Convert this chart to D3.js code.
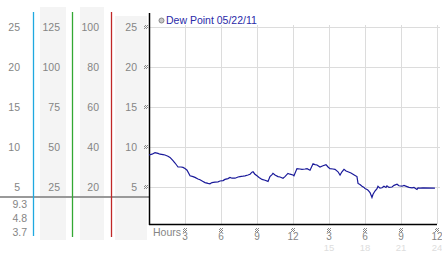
<!DOCTYPE html>
<head>
  <meta charset="utf-8">
  <script src="https://d3js.org/d3.v7.min.js"></script>
  <style>
    body { margin:0; background:#fff; }
    text { font-family: "Liberation Sans", Arial, sans-serif; }
  </style>
</head>
<body>
<script>
  // dew point readings, hours since midnight
  var hours = [0,0.25,0.5,0.75,0.92,1.17,1.33,1.58,1.75,2.0,2.17,2.42,2.67,2.83,3.0,3.17,3.42,3.67,3.83,
    4.08,4.25,4.5,4.67,4.92,5.08,5.25,5.5,5.75,5.92,6.17,6.33,6.58,6.75,6.92,7.17,7.42,7.58,7.83,8.0,
    8.25,8.42,8.58,8.67,8.83,9.0,9.17,9.42,9.67,9.92,10.08,10.25,10.33,10.5,10.75,10.92,11.17,11.33,
    11.58,11.75,12.0,12.08,12.33,12.58,12.75,13.0,13.17,13.42,13.67,13.83,14.0,14.25,14.5,14.75,14.92,
    15.08,15.33,15.5,15.75,15.92,16.08,16.25,16.42,16.58,16.83,17.0,17.17,17.33,17.42,17.58,17.75,
    17.92,18.0,18.17,18.25,18.42,18.58,18.67,18.83,19.0,19.08,19.25,19.42,19.58,19.75,19.83,20.0,
    20.25,20.42,20.67,20.83,21.08,21.25,21.5,21.67,21.92,22.08,22.33,22.42,22.58,22.83,23.83];
  var dewPoint = [9.0,9.1,9.3,9.2,9.1,9.05,9.0,8.85,8.7,8.3,8.0,7.5,7.5,7.45,7.3,7.1,6.4,6.3,6.2,
    6.0,5.9,5.7,5.55,5.45,5.4,5.55,5.6,5.65,5.75,5.8,5.95,6.05,6.2,6.1,6.1,6.25,6.3,6.35,6.4,
    6.5,6.6,6.85,6.9,6.6,6.4,6.2,5.95,5.85,5.7,6.3,6.55,6.7,6.5,6.3,6.25,6.1,6.3,
    6.7,6.6,6.5,6.4,7.3,7.25,7.2,7.25,7.3,7.1,7.9,7.8,7.75,7.5,7.65,7.8,7.5,
    7.3,7.25,7.2,6.9,6.5,6.9,7.2,7.0,6.9,6.75,6.6,6.45,6.3,5.45,5.3,5.1,
    4.95,4.8,4.7,4.6,4.3,3.7,4.1,4.5,4.8,5.1,4.85,4.9,5.1,4.95,5.15,4.95,
    5.0,5.2,5.35,5.15,5.1,5.2,5.05,4.95,4.9,4.95,4.7,4.9,4.85,4.9,4.85];

  var yTicks = [25, 20, 15, 10, 5];
  var col2Ticks = [125, 100, 75, 50, 25];
  var col3Ticks = [100, 80, 60, 40, 20];
  var stats = ["9.3", "4.8", "3.7"];
  var xTicks = [3, 6, 9, 12, 15, 18, 21, 24];
  var xLabels = ["3", "6", "9", "12", "3", "6", "9", "12"];
  var xLabels2 = ["", "", "", "", "15", "18", "21", "24"];
  var legendLabel = "Dew Point 05/22/11";

  var svg = d3.select("body").append("svg")
    .attr("width", 442)
    .attr("height", 253);

  var x = d3.scaleLinear().domain([0, 24]).range([149, 437]);
  var y = d3.scaleLinear().domain([5, 25]).range([187, 27]);
  var y2 = d3.scaleLinear().domain([25, 125]).range([187, 27]);
  var y3 = d3.scaleLinear().domain([20, 100]).range([187, 27]);

  // checker glyph pattern
  svg.append("defs").append("pattern")
    .attr("id", "chk").attr("width", 2).attr("height", 2)
    .attr("patternUnits", "userSpaceOnUse")
    .html('<rect width="1" height="1" fill="#888"/><rect x="1" y="1" width="1" height="1" fill="#888"/>');

  // shaded column bands
  var bands = [[40, 66, 7], [80, 104, 7], [115, 147, 16]];
  svg.selectAll("rect.band").data(bands).enter().append("rect")
    .attr("class", "band")
    .attr("x", function(d) { return d[0]; })
    .attr("y", function(d) { return d[2]; })
    .attr("width", function(d) { return d[1] - d[0]; })
    .attr("height", function(d) { return 240 - d[2]; })
    .attr("fill", "#f4f4f4");

  var grey = "#858585";
  function colLabels(vals, scale, xr) {
    svg.append("g").selectAll("text").data(vals).enter().append("text")
      .attr("x", xr).attr("y", function(d) { return scale(d) + 4; })
      .attr("text-anchor", "end")
      .attr("font-size", "10.5px").attr("fill", grey)
      .text(function(d) { return d; });
  }
  colLabels(yTicks, y, 20);
  colLabels(col2Ticks, y2, 60);
  colLabels(col3Ticks, y3, 99);
  colLabels(yTicks, y, 137);

  svg.append("g").selectAll("text").data(stats).enter().append("text")
    .attr("x", 27).attr("y", function(d, i) { return 208 + i * 14; })
    .attr("text-anchor", "end")
    .attr("font-size", "10.5px").attr("fill", grey)
    .text(function(d) { return d; });

  // grey separator
  svg.append("line").attr("x1", 0).attr("x2", 149).attr("y1", 197).attr("y2", 197)
    .attr("stroke", "#999").attr("stroke-width", 2);

  // coloured column lines
  var colLines = [[33, 236, "#1fa9e0"], [72, 237, "#33a833"], [111, 237, "#c02828"]];
  svg.selectAll("line.col").data(colLines).enter().append("line")
    .attr("class", "col")
    .attr("x1", function(d) { return d[0] + 0.5; })
    .attr("x2", function(d) { return d[0] + 0.5; })
    .attr("y1", 12).attr("y2", function(d) { return d[1]; })
    .attr("stroke", function(d) { return d[2]; })
    .attr("stroke-width", 1.3);

  // grid
  svg.append("g").selectAll("line").data(yTicks).enter().append("line")
    .attr("x1", 149).attr("x2", 440)
    .attr("y1", function(d) { return y(d) + 0.5; })
    .attr("y2", function(d) { return y(d) + 0.5; })
    .attr("stroke", "#dcdcdc");
  svg.append("g").selectAll("line").data(xTicks).enter().append("line")
    .attr("x1", function(d) { return x(d) + 0.5; })
    .attr("x2", function(d) { return x(d) + 0.5; })
    .attr("y1", 25).attr("y2", 224)
    .attr("stroke", "#dcdcdc");

  // axes
  svg.append("line").attr("x1", 149.5).attr("x2", 149.5).attr("y1", 13).attr("y2", 225)
    .attr("stroke", "#000").attr("stroke-width", 1.5);
  svg.append("line").attr("x1", 149).attr("x2", 437).attr("y1", 224.5).attr("y2", 224.5)
    .attr("stroke", "#000").attr("stroke-width", 1.5);

  // tick glyphs
  svg.append("g").selectAll("rect").data(yTicks).enter().append("rect")
    .attr("x", 144).attr("y", function(d) { return y(d) - 2; })
    .attr("width", 4).attr("height", 4).attr("fill", "url(#chk)");
  svg.append("g").selectAll("rect").data(xTicks).enter().append("rect")
    .attr("x", function(d) { return x(d) - 2; }).attr("y", 228)
    .attr("width", 4).attr("height", 4).attr("fill", "url(#chk)");

  // x labels
  svg.append("text").attr("x", 153).attr("y", 236)
    .attr("font-size", "10.5px").attr("fill", grey).text("Hours");
  svg.append("g").selectAll("text").data(xTicks).enter().append("text")
    .attr("x", function(d) { return x(d); }).attr("y", 240)
    .attr("text-anchor", "middle")
    .attr("font-size", "10px").attr("fill", grey)
    .text(function(d, i) { return xLabels[i]; });
  svg.append("g").selectAll("text").data(xTicks).enter().append("text")
    .attr("x", function(d) { return x(d); }).attr("y", 251)
    .attr("text-anchor", "middle")
    .attr("font-size", "9.5px").attr("fill", "#dddddd")
    .text(function(d, i) { return xLabels2[i]; });

  // legend
  svg.append("circle").attr("cx", 161.5).attr("cy", 20.5).attr("r", 2.5)
    .attr("fill", "#c8c8c8").attr("stroke", "#888");
  svg.append("text").attr("x", 166).attr("y", 24)
    .attr("font-size", "10.5px").attr("fill", "#2a2aa8").text(legendLabel);

  // dew point line
  var line = d3.line()
    .x(function(d, i) { return x(hours[i]); })
    .y(function(d) { return y(d); });
  svg.append("path").datum(dewPoint)
    .attr("d", line)
    .attr("fill", "none")
    .attr("stroke", "#1a1a9a")
    .attr("stroke-width", 1.2);
</script>
</body>
